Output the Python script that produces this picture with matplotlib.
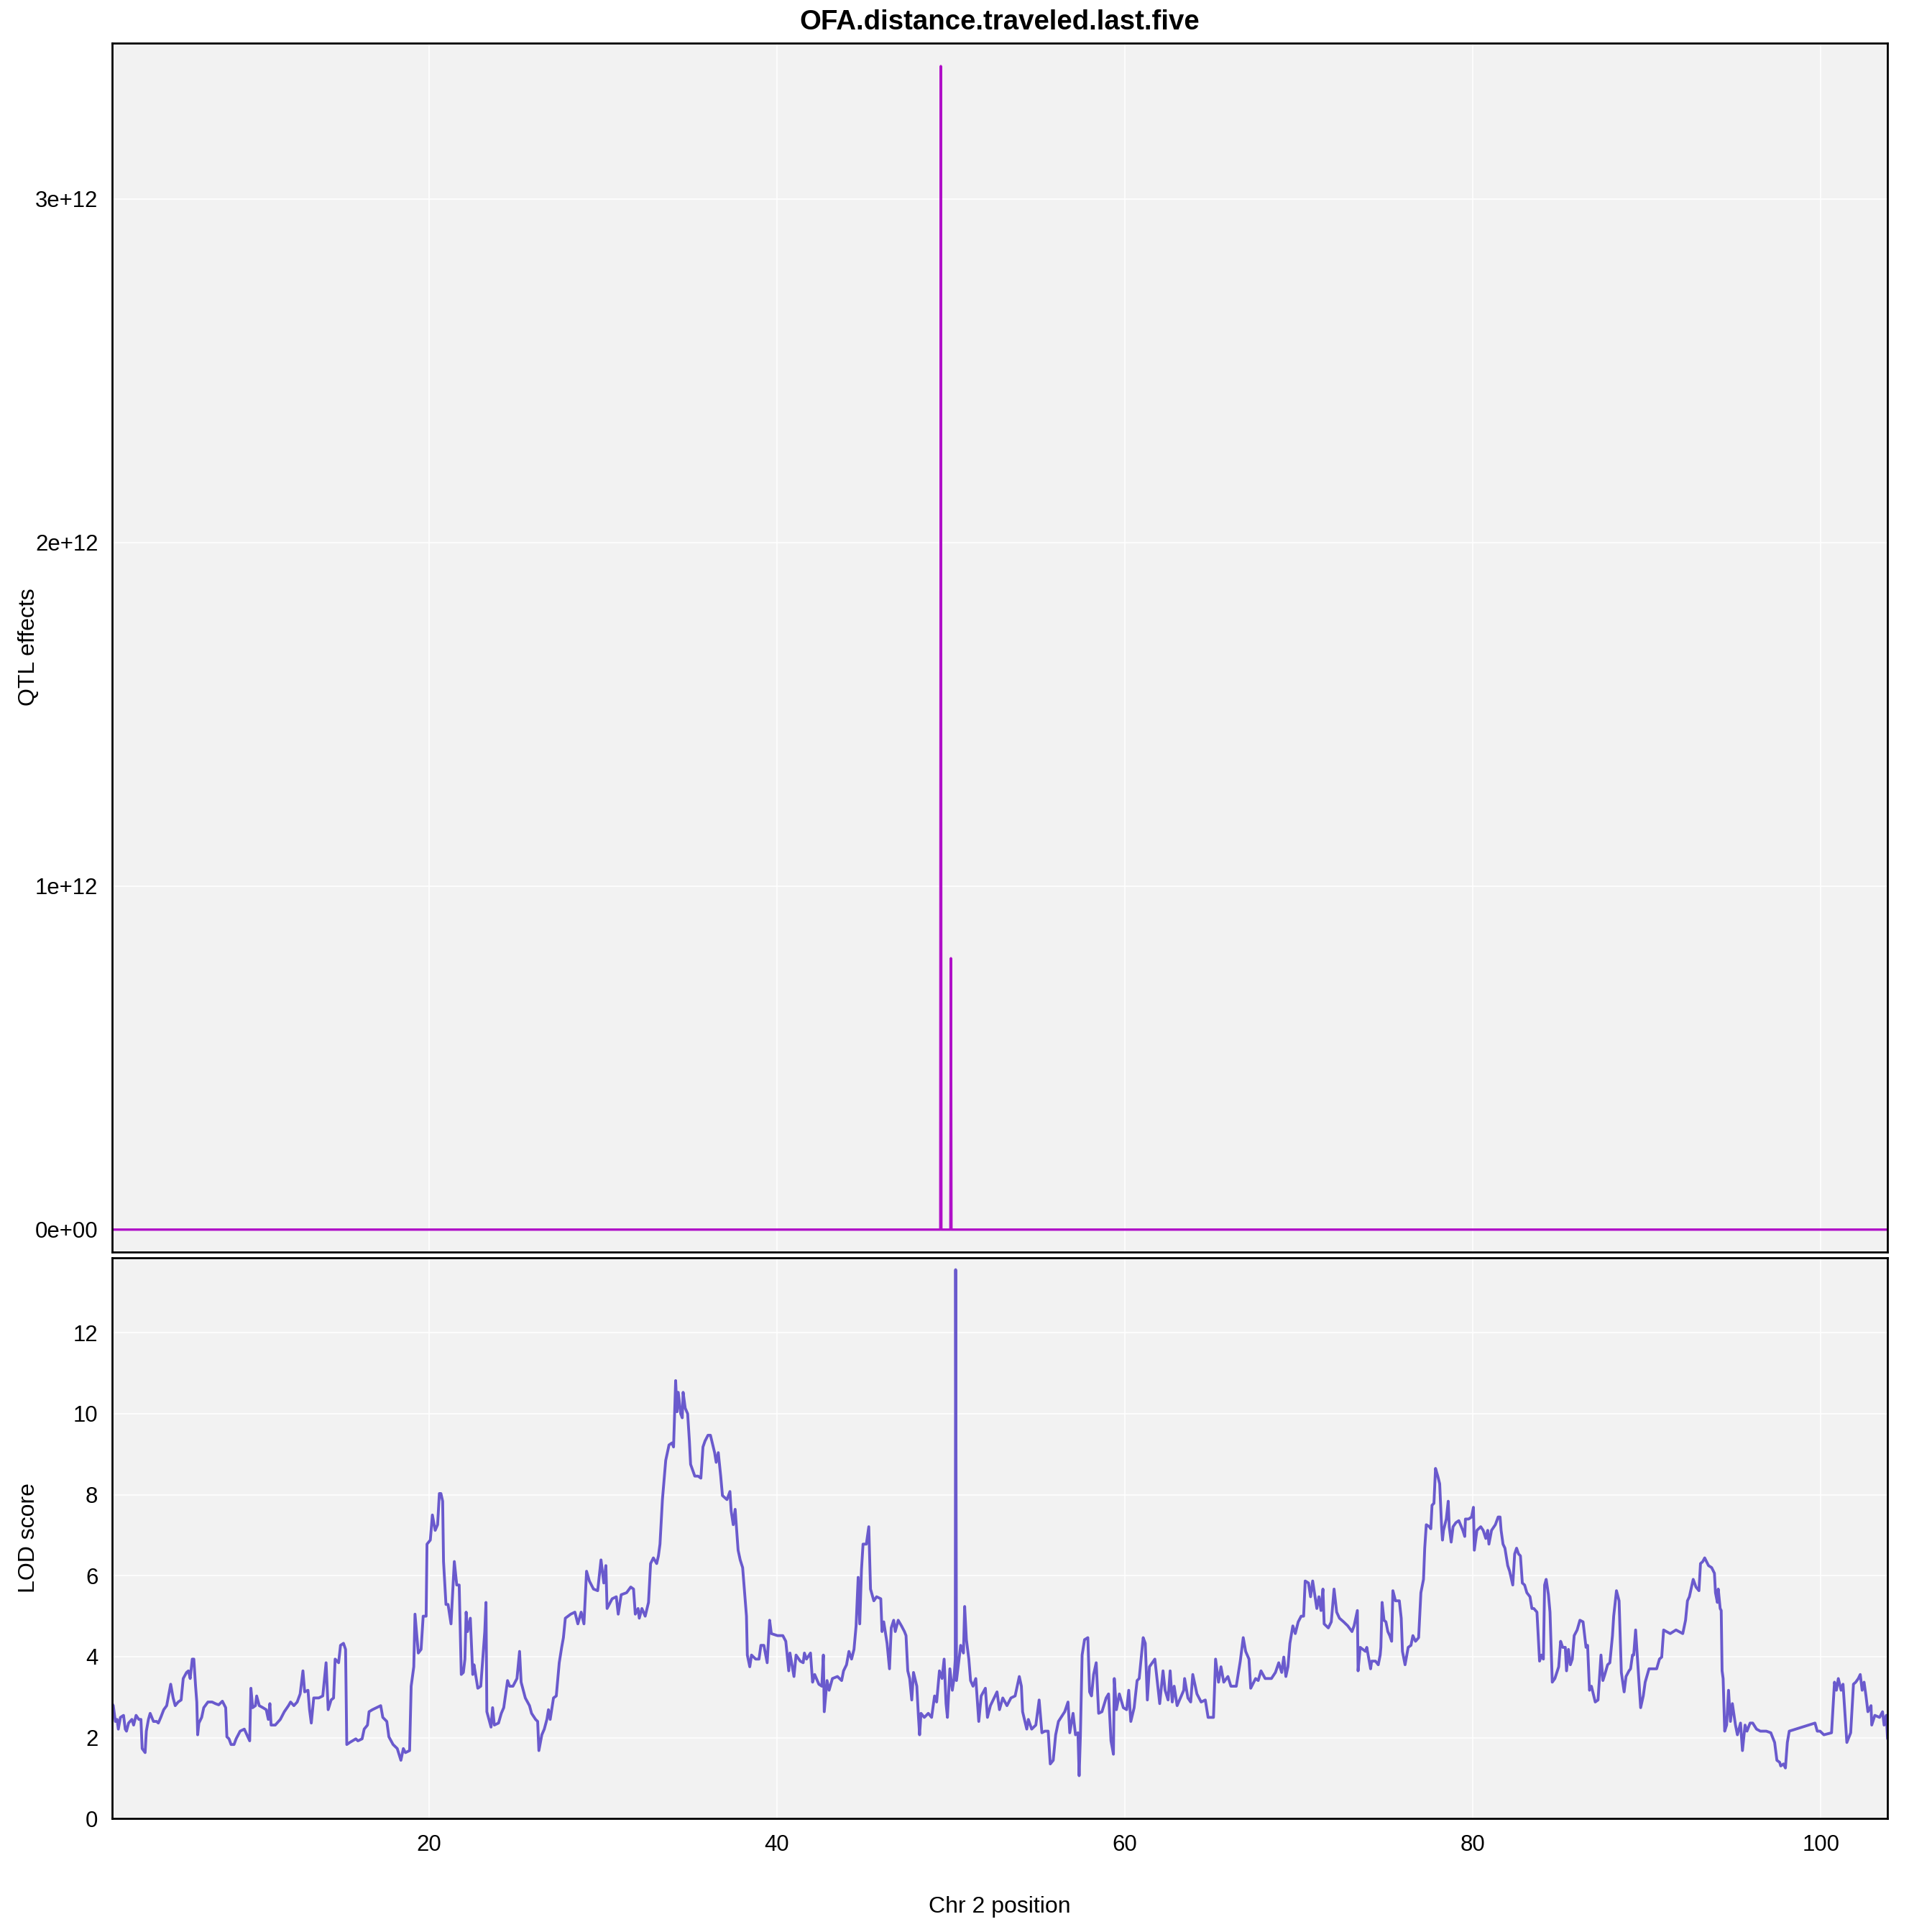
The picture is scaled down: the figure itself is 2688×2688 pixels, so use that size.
import numpy as np
import matplotlib
matplotlib.use("Agg")
import matplotlib.pyplot as plt

plt.rcParams['font.family'] = ['Liberation Sans', 'DejaVu Sans']

title = "OFA.distance.traveled.last.five"

# QTL effect trace (only one marker pair deviates from zero)
qtl_cm = [1.80, 49.40, 49.43, 49.46, 49.98, 50.01, 50.04, 103.84]
qtl_effect = [0, 0, 3.387e12, 0, 0, 0.79e12, 0, 0]

# LOD scan along chromosome 2
lod_cm = [
    1.80, 1.87, 1.99, 2.09, 2.16, 2.28, 2.46, 2.56, 2.63, 2.75,
    2.94, 3.04, 3.18, 3.34, 3.46, 3.53, 3.70, 3.77, 3.89, 3.99,
    4.18, 4.36, 4.46, 4.60, 4.77, 4.94, 5.17, 5.31, 5.43, 5.60,
    5.77, 5.89, 6.08, 6.19, 6.29, 6.41, 6.50, 6.60, 6.67, 6.72,
    6.79, 6.95, 7.07, 7.31, 7.55, 7.74, 7.93, 8.14, 8.33, 8.40,
    8.52, 8.64, 8.81, 8.93, 9.16, 9.40, 9.71, 9.78, 9.88, 10.04,
    10.11, 10.26, 10.47, 10.66, 10.78, 10.87, 10.94, 11.18, 11.47, 11.70,
    11.94, 12.06, 12.25, 12.44, 12.61, 12.77, 12.87, 13.06, 13.15, 13.25,
    13.39, 13.68, 13.91, 14.10, 14.22, 14.39, 14.53, 14.62, 14.82, 14.93,
    15.10, 15.22, 15.29, 15.46, 15.81, 15.93, 16.17, 16.29, 16.48, 16.57,
    16.76, 17.00, 17.24, 17.36, 17.59, 17.71, 17.95, 18.19, 18.40, 18.54,
    18.66, 18.90, 18.99, 19.14, 19.21, 19.40, 19.56, 19.68, 19.85, 19.90,
    20.09, 20.21, 20.37, 20.51, 20.61, 20.70, 20.80, 20.85, 20.99, 21.11,
    21.28, 21.47, 21.61, 21.75, 21.87, 21.99, 22.08, 22.15, 22.23, 22.39,
    22.53, 22.60, 22.82, 22.99, 23.22, 23.29, 23.34, 23.58, 23.67, 23.77,
    24.01, 24.17, 24.31, 24.53, 24.65, 24.84, 25.07, 25.22, 25.31, 25.55,
    25.79, 25.91, 26.14, 26.26, 26.33, 26.50, 26.64, 26.79, 26.88, 26.98,
    27.17, 27.33, 27.50, 27.64, 27.74, 27.85, 28.16, 28.40, 28.57, 28.76,
    28.92, 29.07, 29.23, 29.47, 29.71, 29.90, 30.06, 30.18, 30.25, 30.54,
    30.78, 30.89, 31.06, 31.37, 31.61, 31.77, 31.87, 32.03, 32.10, 32.25,
    32.44, 32.63, 32.75, 32.91, 33.10, 33.20, 33.29, 33.43, 33.62, 33.81,
    33.98, 34.07, 34.19, 34.27, 34.34, 34.48, 34.57, 34.62, 34.74, 34.88,
    34.98, 35.05, 35.29, 35.48, 35.64, 35.76, 35.88, 36.05, 36.19, 36.43,
    36.52, 36.64, 36.78, 36.88, 37.14, 37.31, 37.38, 37.50, 37.61, 37.78,
    37.90, 38.04, 38.26,
    38.31, 38.45, 38.55, 38.79, 38.98, 39.09, 39.26, 39.45, 39.59, 39.69,
    40.04, 40.35, 40.52, 40.69, 40.76, 40.99, 41.11, 41.35, 41.52, 41.59,
    41.71, 41.94, 42.06, 42.18, 42.42, 42.59, 42.68, 42.73, 42.89, 43.01,
    43.20, 43.49, 43.73, 43.84, 44.01, 44.15, 44.30, 44.44, 44.56, 44.68,
    44.77, 44.87, 44.96, 45.15, 45.29, 45.39, 45.58, 45.74, 45.98, 46.05,
    46.15, 46.34, 46.48, 46.58, 46.72, 46.81, 46.98, 47.17, 47.34, 47.43,
    47.53, 47.64, 47.76, 47.86, 48.05, 48.14, 48.21, 48.29, 48.48, 48.71,
    48.90, 49.07, 49.19, 49.35, 49.50, 49.62, 49.73, 49.81, 49.95, 50.09,
    50.19, 50.26, 50.28, 50.33, 50.57, 50.73, 50.80, 50.90, 51.04, 51.14,
    51.28, 51.44, 51.61, 51.75, 51.99, 52.11, 52.28, 52.66, 52.80, 52.99,
    53.23, 53.46, 53.70, 53.94, 54.06, 54.13, 54.37, 54.46, 54.65, 54.89,
    55.08, 55.24, 55.41, 55.60, 55.72, 55.89, 56.03, 56.19, 56.55, 56.74,
    56.84, 57.03, 57.17, 57.31, 57.38, 57.45, 57.55, 57.69, 57.88, 57.98,
    58.09, 58.21, 58.36, 58.50, 58.69, 58.93, 59.07, 59.21, 59.35, 59.40,
    59.52, 59.69, 59.92, 60.11, 60.23, 60.35, 60.54, 60.71, 60.83, 61.06,
    61.18, 61.30, 61.42, 61.73, 62.01, 62.20, 62.32, 62.49, 62.61, 62.73,
    62.84, 63.01, 63.20, 63.39, 63.44, 63.63, 63.79, 63.91, 64.15, 64.39,
    64.63, 64.79, 65.10, 65.22, 65.39, 65.53, 65.69, 65.93, 66.10, 66.41,
    66.64, 66.81, 66.95, 67.14, 67.24, 67.52, 67.67, 67.83, 68.07, 68.43,
    68.66, 68.85, 69.02, 69.14, 69.26, 69.38, 69.49, 69.66, 69.80, 69.97,
    70.14, 70.28, 70.37, 70.56, 70.68, 70.80, 71.04, 71.16, 71.28, 71.39,
    71.46, 71.70, 71.87, 72.03, 72.18, 72.34, 72.58, 72.82, 73.06, 73.18,
    73.37, 73.41, 73.53, 73.84,
    73.91, 74.13, 74.19, 74.41, 74.57, 74.68, 74.72, 74.79, 74.90, 75.01,
    75.12, 75.23, 75.34, 75.41, 75.56, 75.78, 75.89, 75.96, 76.11, 76.29,
    76.45, 76.56, 76.71, 76.89, 77.02, 77.17, 77.24, 77.33, 77.51, 77.59,
    77.66, 77.77, 77.86, 77.99, 78.10, 78.21, 78.26, 78.32, 78.48, 78.59,
    78.65, 78.76, 78.87, 79.03, 79.20, 79.43, 79.54, 79.58, 79.76, 79.93,
    80.04, 80.09, 80.24, 80.46, 80.60, 80.75, 80.86, 80.93, 81.08, 81.30,
    81.46, 81.57, 81.63, 81.74, 81.85, 82.01, 82.12, 82.30, 82.41, 82.52,
    82.63, 82.74, 82.85, 82.98, 83.11, 83.29, 83.40, 83.51, 83.69, 83.84,
    83.95, 84.06, 84.13, 84.22, 84.35, 84.44, 84.57, 84.72, 84.94, 85.05,
    85.17, 85.32, 85.39, 85.50, 85.61, 85.72, 85.83, 86.00, 86.16, 86.34,
    86.51, 86.60, 86.71, 86.82, 87.04, 87.20, 87.37, 87.48, 87.59, 87.75,
    87.88, 88.03, 88.10, 88.26, 88.41, 88.54, 88.70, 88.81, 88.98, 89.07,
    89.18, 89.25, 89.36, 89.47, 89.65, 89.80, 89.91, 90.13, 90.57, 90.73,
    90.86, 90.97, 91.13, 91.35, 91.68, 91.85, 92.07, 92.23, 92.34, 92.45,
    92.60, 92.67, 92.83, 93.00, 93.09, 93.22, 93.33, 93.55, 93.73, 93.89,
    93.95, 94.06, 94.11, 94.22, 94.28, 94.33, 94.39, 94.48, 94.59, 94.70,
    94.81, 94.92, 95.10, 95.21, 95.39, 95.50, 95.65, 95.76, 95.94, 96.09,
    96.31, 96.53, 96.87, 97.13, 97.35, 97.48, 97.64, 97.70, 97.86, 97.97,
    98.08, 98.19, 99.67, 99.80, 99.96, 100.18, 100.62, 100.79, 100.90, 101.01,
    101.17, 101.28, 101.50, 101.72, 101.88, 102.01, 102.16, 102.27, 102.38, 102.49,
    102.60, 102.71, 102.89, 102.93, 103.11, 103.38, 103.55, 103.64, 103.77, 103.84,
]

lod_score = [
    2.84, 2.79, 2.40, 2.45, 2.21, 2.50, 2.55, 2.21, 2.16, 2.36,
    2.45, 2.31, 2.55, 2.45, 2.45, 1.73, 1.63, 2.16, 2.45, 2.60,
    2.40, 2.40, 2.36, 2.50, 2.69, 2.79, 3.32, 2.98, 2.79, 2.88,
    2.93, 3.46, 3.61, 3.65, 3.46, 3.94, 3.94, 3.27, 2.88, 2.07,
    2.36, 2.50, 2.74, 2.88, 2.88, 2.84, 2.81, 2.90, 2.74, 2.02,
    1.97, 1.83, 1.83, 1.97, 2.16, 2.21, 1.92, 3.22, 2.74, 2.79,
    3.03, 2.79, 2.74, 2.69, 2.45, 2.84, 2.31, 2.31, 2.45, 2.64,
    2.79, 2.88, 2.79, 2.88, 3.08, 3.65, 3.13, 3.17, 2.69, 2.36,
    2.98, 2.98, 3.03, 3.85, 2.69, 2.93, 2.98, 3.94, 3.85, 4.28,
    4.33, 4.18, 1.83, 1.88, 1.97, 1.92, 1.97, 2.21, 2.31, 2.64,
    2.69, 2.74, 2.79, 2.50, 2.40, 2.02, 1.83, 1.73, 1.44, 1.73,
    1.63, 1.68, 3.27, 3.75, 5.05, 4.09, 4.18, 5.00, 5.00, 6.78,
    6.88, 7.50, 7.12, 7.26, 8.03, 8.03, 7.84, 6.35, 5.29, 5.29,
    4.81, 6.35, 5.77, 5.77, 3.56, 3.61, 3.94, 5.10, 4.62, 4.95,
    3.56, 3.80, 3.22, 3.27, 4.62, 5.34, 2.64, 2.26, 2.74, 2.31,
    2.36, 2.60, 2.74, 3.41, 3.27, 3.27, 3.46, 4.13, 3.37, 2.98,
    2.79, 2.60, 2.45, 2.40, 1.68, 2.07, 2.21, 2.45, 2.69, 2.45,
    2.98, 3.03, 3.85, 4.23, 4.47, 4.95, 5.05, 5.10, 4.81, 5.10,
    4.81, 6.11, 5.87, 5.67, 5.63, 6.39, 5.82, 6.25, 5.19, 5.43,
    5.48, 5.05, 5.53, 5.58, 5.72, 5.67, 5.05, 5.19, 4.95, 5.19,
    5.00, 5.34, 6.30, 6.44, 6.30, 6.49, 6.78, 7.88, 8.85, 9.23,
    9.28, 9.18, 10.82, 10.05, 10.53, 10.00, 9.90, 10.53, 10.14, 10.00,
    9.33, 8.75, 8.46, 8.46, 8.41, 9.18, 9.33, 9.47, 9.47, 9.04,
    8.80, 9.04, 8.46, 7.98, 7.88, 8.08, 7.60, 7.26, 7.64, 6.63,
    6.39, 6.20, 5.00,
    4.04, 3.75, 4.04, 3.94, 3.94, 4.28, 4.28, 3.85, 4.90, 4.57,
    4.52, 4.52, 4.38, 3.65, 4.09, 3.51, 4.04, 3.89, 3.85, 4.09,
    3.94, 4.09, 3.37, 3.56, 3.32, 3.27, 4.04, 2.64, 3.41, 3.17,
    3.46, 3.51, 3.41, 3.65, 3.80, 4.13, 3.94, 4.18, 4.76, 5.96,
    4.81, 6.15, 6.78, 6.78, 7.21, 5.67, 5.38, 5.48, 5.43, 4.62,
    4.86, 4.33, 3.70, 4.71, 4.90, 4.62, 4.90, 4.76, 4.62, 4.52,
    3.65, 3.46, 2.93, 3.61, 3.27, 2.55, 2.07, 2.60, 2.50, 2.60,
    2.50, 3.03, 2.88, 3.65, 3.46, 3.94, 2.84, 2.50, 3.70, 3.17,
    3.46, 3.94, 13.56, 3.41, 4.28, 4.09, 5.24, 4.42, 3.94, 3.41,
    3.27, 3.46, 2.40, 3.03, 3.22, 2.50, 2.79, 3.13, 2.69, 2.98,
    2.79, 2.98, 3.03, 3.51, 3.27, 2.64, 2.21, 2.45, 2.21, 2.31,
    2.93, 2.12, 2.16, 2.16, 1.35, 1.44, 2.07, 2.40, 2.64, 2.88,
    2.12, 2.60, 2.07, 2.12, 1.06, 2.02, 4.04, 4.42, 4.47, 3.13,
    3.03, 3.56, 3.85, 2.60, 2.64, 2.98, 3.08, 1.92, 1.59, 3.46,
    2.69, 3.08, 2.74, 2.69, 3.17, 2.40, 2.74, 3.41, 3.46, 4.47,
    4.33, 2.93, 3.75, 3.94, 2.84, 3.65, 3.17, 2.93, 3.65, 2.88,
    3.27, 2.79, 2.98, 3.17, 3.46, 2.98, 2.88, 3.56, 3.08, 2.88,
    2.93, 2.50, 2.50, 3.94, 3.37, 3.75, 3.37, 3.51, 3.27, 3.27,
    3.89, 4.47, 4.13, 3.94, 3.22, 3.46, 3.41, 3.65, 3.46, 3.46,
    3.61, 3.85, 3.61, 3.99, 3.51, 3.75, 4.33, 4.76, 4.57, 4.86,
    5.00, 5.00, 5.87, 5.82, 5.48, 5.87, 5.19, 5.48, 5.14, 5.67,
    4.81, 4.71, 4.86, 5.67, 5.10, 4.95, 4.86, 4.76, 4.62, 4.76,
    5.14, 3.65, 4.23, 4.13,
    4.23, 3.70, 3.89, 3.89, 3.80, 4.04, 4.23, 5.34, 4.90, 4.86,
    4.62, 4.52, 4.38, 5.63, 5.38, 5.38, 4.95, 4.13, 3.80, 4.23,
    4.28, 4.52, 4.38, 4.47, 5.58, 5.91, 6.68, 7.26, 7.21, 7.16,
    7.74, 7.79, 8.65, 8.46, 8.27, 7.21, 6.88, 7.12, 7.40, 7.84,
    7.21, 6.83, 7.21, 7.31, 7.36, 7.12, 6.97, 7.40, 7.40, 7.45,
    7.69, 6.63, 7.12, 7.21, 7.12, 6.92, 7.12, 6.78, 7.12, 7.26,
    7.45, 7.45, 7.12, 6.78, 6.68, 6.25, 6.11, 5.77, 6.54, 6.68,
    6.54, 6.49, 5.82, 5.77, 5.58, 5.48, 5.19, 5.19, 5.10, 3.89,
    4.04, 3.94, 5.77, 5.91, 5.53, 5.10, 3.37, 3.46, 3.75, 4.38,
    4.23, 4.23, 3.65, 4.18, 3.80, 3.94, 4.52, 4.66, 4.90, 4.86,
    4.23, 4.28, 3.17, 3.27, 2.88, 2.93, 4.04, 3.41, 3.56, 3.80,
    3.85, 4.52, 5.00, 5.63, 5.38, 3.61, 3.13, 3.51, 3.65, 3.70,
    4.04, 4.04, 4.66, 3.94, 2.74, 3.03, 3.37, 3.70, 3.70, 3.94,
    3.99, 4.66, 4.62, 4.57, 4.66, 4.62, 4.57, 4.90, 5.38, 5.48,
    5.77, 5.91, 5.72, 5.63, 6.30, 6.35, 6.44, 6.25, 6.20, 6.06,
    5.58, 5.34, 5.67, 5.19, 5.14, 3.65, 3.46, 2.16, 2.31, 3.17,
    2.40, 2.84, 2.31, 2.07, 2.36, 1.68, 2.31, 2.16, 2.36, 2.36,
    2.21, 2.16, 2.16, 2.12, 1.88, 1.44, 1.39, 1.30, 1.35, 1.25,
    1.88, 2.16, 2.36, 2.16, 2.16, 2.07, 2.12, 3.37, 3.17, 3.46,
    3.17, 3.32, 1.88, 2.12, 3.32, 3.37, 3.46, 3.56, 3.17, 3.37,
    3.03, 2.64, 2.79, 2.31, 2.55, 2.50, 2.64, 2.31, 2.55, 1.97,
]

x_ticks = [20, 40, 60, 80, 100]
qtl_ticks = [0, 1e12, 2e12, 3e12]
qtl_tick_labels = ["0e+00", "1e+12", "2e+12", "3e+12"]
lod_ticks = [0, 2, 4, 6, 8, 10, 12]

bg = "#f2f2f2"
qtl_color = "#b010c8"
lod_color = "#6a5acd"

fig = plt.figure(figsize=(13.44, 13.44), dpi=200)
ax_top = fig.add_axes([0.058, 0.352, 0.919, 0.6257])
ax_bot = fig.add_axes([0.058, 0.0587, 0.919, 0.2902], sharex=ax_top)

for ax in (ax_top, ax_bot):
    ax.set_facecolor(bg)
    ax.grid(True, color="white", linewidth=0.6)
    ax.set_axisbelow(True)
    for sp in ax.spines.values():
        sp.set_color("black")
        sp.set_linewidth(1.0)
    ax.tick_params(length=0, labelsize=11.2, colors="black")
    ax.tick_params(axis="y", pad=7)
    ax.tick_params(axis="x", pad=8)

ax_top.plot(qtl_cm, qtl_effect, color=qtl_color, linewidth=1.2,
            solid_joinstyle="round", solid_capstyle="round")
ax_top.set_ylim(-0.065e12, 3.454e12)
ax_top.set_yticks(qtl_ticks)
ax_top.set_yticklabels(qtl_tick_labels)
ax_top.tick_params(axis="x", labelbottom=False)

ax_bot.plot(lod_cm, lod_score, color=lod_color, linewidth=1.4,
            solid_joinstyle="round", solid_capstyle="round")
ax_bot.set_ylim(0, 13.85)
ax_bot.set_yticks(lod_ticks)
ax_bot.set_xticks(x_ticks)
ax_bot.set_xlim(lod_cm[0], lod_cm[-1])

fig.text(0.5175, 0.9885, title, ha="center", va="center", fontsize=13.8, fontweight="bold")
fig.text(0.015, 0.665, "QTL effects", rotation=90, ha="center", va="center", fontsize=11.5)
fig.text(0.015, 0.204, "LOD score", rotation=90, ha="center", va="center", fontsize=11.5)
fig.text(0.5175, 0.0100, "Chr 2 position", ha="center", va="baseline", fontsize=11.5)

fig.savefig("out.png", dpi=200, facecolor="white")
